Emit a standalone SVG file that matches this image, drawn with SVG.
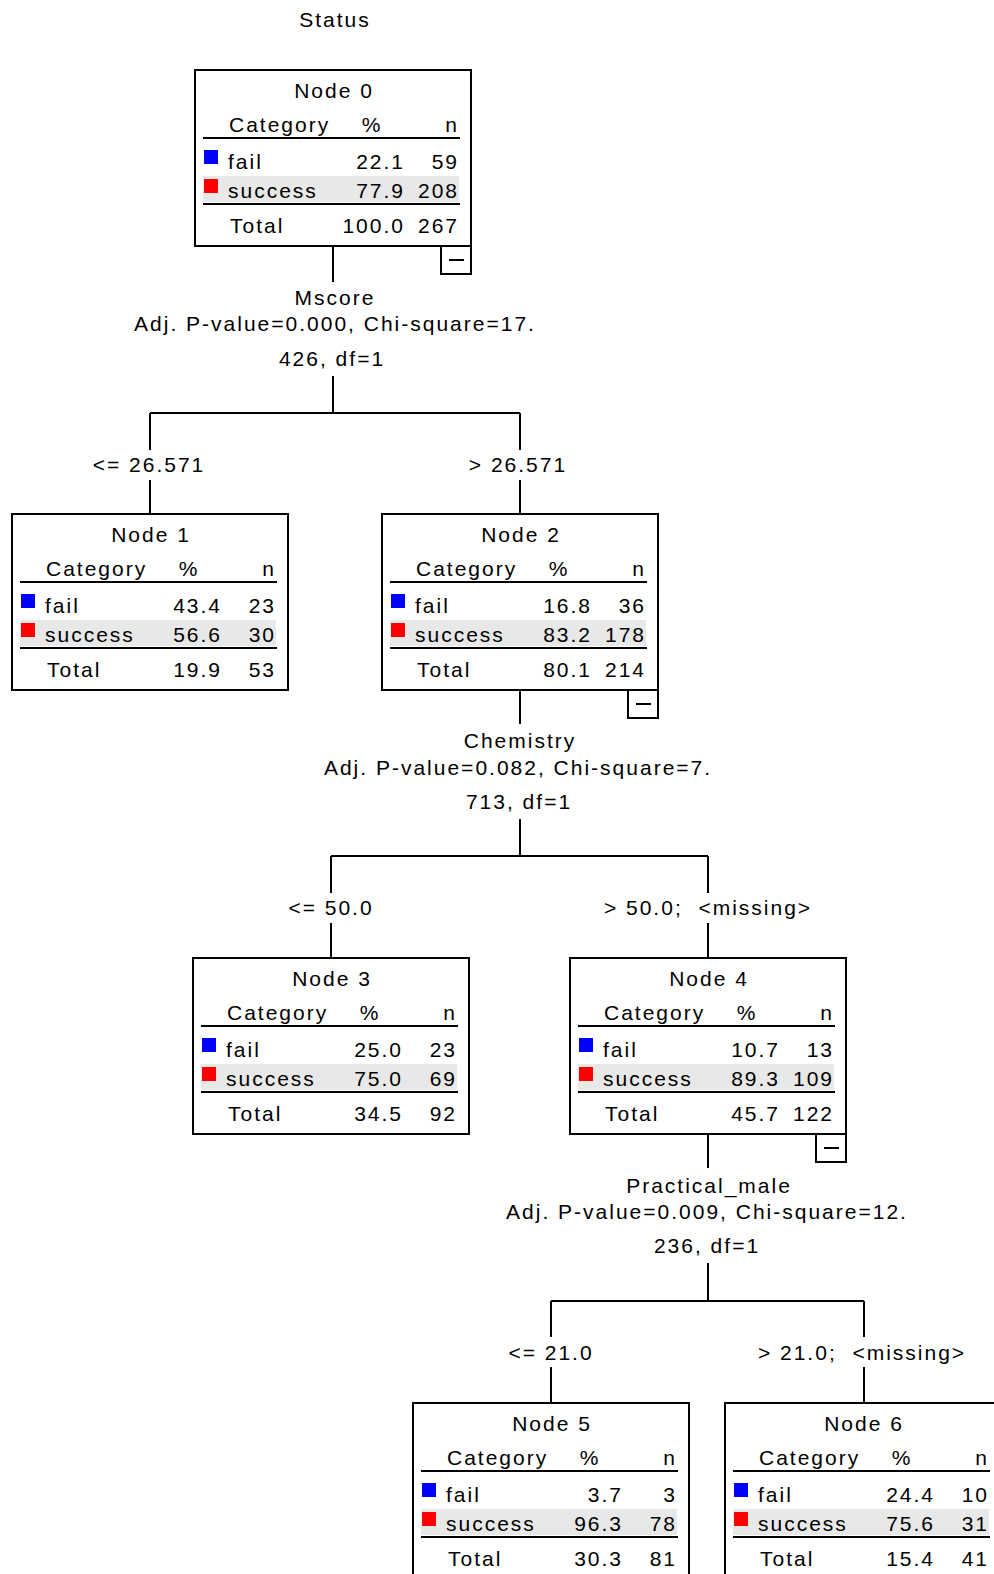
<svg xmlns="http://www.w3.org/2000/svg" xmlns:xlink="http://www.w3.org/1999/xlink" width="994" height="1574" viewBox="0 0 994 1574">
  <style>
    text { font-family: "Liberation Sans", Arial, sans-serif; font-size: 21px; letter-spacing: 2px; fill: #000; }
    .mid { text-anchor: middle; }
    .end { text-anchor: end; }
    .pre { white-space: pre; }
    .box { fill: #fff; stroke: #000; stroke-width: 2; }
    .rule { stroke: #000; stroke-width: 2; }
    .band { fill: #e8e8e8; }
    .fail { fill: #0000ff; }
    .succ { fill: #ff0000; }
    .toggle { fill: #fff; stroke: #000; stroke-width: 2; }
    .conn { fill: none; stroke: #000; stroke-width: 2; }
  </style>
  <defs>
    <!-- shared node frame: border, header rule, colour keys, shaded row, total rule -->
    <g id="frame">
      <rect class="box" x="0" y="0" width="276" height="176"/>
      <line class="rule" x1="8" y1="68" x2="265" y2="68"/>
      <rect class="band" x="8" y="106" width="256" height="26"/>
      <rect class="fail" x="9" y="80" width="14" height="14"/>
      <rect class="succ" x="9" y="109" width="14" height="14"/>
      <line class="rule" x1="8" y1="134" x2="265" y2="134"/>
      <text x="34" y="62">Category</text>
      <text class="mid" x="177" y="62">%</text>
      <text class="end" x="264" y="62">n</text>
      <text x="33" y="99">fail</text>
      <text x="33" y="128">success</text>
      <text x="35" y="163">Total</text>
    </g>
    <!-- collapse toggle under an expanded node -->
    <g id="toggle">
      <rect class="toggle" x="246" y="176" width="30" height="28"/>
      <line class="rule" x1="254" y1="190" x2="269" y2="190"/>
    </g>
  </defs>

  <text class="mid" x="335" y="27">Status</text>

  <!-- connectors and split labels -->
  <g id="connectors">
    <path class="conn" d="M333 245 V282 M333 376 V413 M150 413 H520 M150 413 V450 M520 413 V450 M150 480 V514 M520 480 V514"/>
    <path class="conn" d="M520 690 V724 M520 819 V856 M331 856 H708 M331 856 V893 M708 856 V893 M331 923 V958 M708 923 V958"/>
    <path class="conn" d="M708 1133 V1168 M708 1263 V1301 M551 1301 H864 M551 1301 V1337 M864 1301 V1337 M551 1367 V1403 M864 1367 V1403"/>

    <text class="mid" x="335" y="305">Mscore</text>
    <text class="mid" x="335" y="331">Adj. P-value=0.000, Chi-square=17.</text>
    <text class="mid" x="332" y="366">426, df=1</text>
    <text class="mid" x="149" y="472">&lt;= 26.571</text>
    <text class="mid" x="518" y="472">&gt; 26.571</text>

    <text class="mid" x="520" y="748">Chemistry</text>
    <text class="mid" x="518" y="775">Adj. P-value=0.082, Chi-square=7.</text>
    <text class="mid" x="519" y="809">713, df=1</text>
    <text class="mid" x="331" y="915">&lt;= 50.0</text>
    <text class="mid pre" x="708" y="915">&gt; 50.0;  &lt;missing&gt;</text>

    <text class="mid" x="709" y="1193">Practical_male</text>
    <text class="mid" x="707" y="1219">Adj. P-value=0.009, Chi-square=12.</text>
    <text class="mid" x="707" y="1253">236, df=1</text>
    <text class="mid" x="551" y="1360">&lt;= 21.0</text>
    <text class="mid pre" x="862" y="1360">&gt; 21.0;  &lt;missing&gt;</text>
  </g>

  <g id="node0" transform="translate(195 70)">
    <use xlink:href="#frame"/>
    <use xlink:href="#toggle"/>
    <text class="mid" x="139" y="28">Node 0</text>
    <text class="end" x="210" y="99">22.1</text><text class="end" x="264" y="99">59</text>
    <text class="end" x="210" y="128">77.9</text><text class="end" x="264" y="128">208</text>
    <text class="end" x="210" y="163">100.0</text><text class="end" x="264" y="163">267</text>
  </g>

  <g id="node1" transform="translate(12 514)">
    <use xlink:href="#frame"/>
    <text class="mid" x="139" y="28">Node 1</text>
    <text class="end" x="210" y="99">43.4</text><text class="end" x="264" y="99">23</text>
    <text class="end" x="210" y="128">56.6</text><text class="end" x="264" y="128">30</text>
    <text class="end" x="210" y="163">19.9</text><text class="end" x="264" y="163">53</text>
  </g>

  <g id="node2" transform="translate(382 514)">
    <use xlink:href="#frame"/>
    <use xlink:href="#toggle"/>
    <text class="mid" x="139" y="28">Node 2</text>
    <text class="end" x="210" y="99">16.8</text><text class="end" x="264" y="99">36</text>
    <text class="end" x="210" y="128">83.2</text><text class="end" x="264" y="128">178</text>
    <text class="end" x="210" y="163">80.1</text><text class="end" x="264" y="163">214</text>
  </g>

  <g id="node3" transform="translate(193 958)">
    <use xlink:href="#frame"/>
    <text class="mid" x="139" y="28">Node 3</text>
    <text class="end" x="210" y="99">25.0</text><text class="end" x="264" y="99">23</text>
    <text class="end" x="210" y="128">75.0</text><text class="end" x="264" y="128">69</text>
    <text class="end" x="210" y="163">34.5</text><text class="end" x="264" y="163">92</text>
  </g>

  <g id="node4" transform="translate(570 958)">
    <use xlink:href="#frame"/>
    <use xlink:href="#toggle"/>
    <text class="mid" x="139" y="28">Node 4</text>
    <text class="end" x="210" y="99">10.7</text><text class="end" x="264" y="99">13</text>
    <text class="end" x="210" y="128">89.3</text><text class="end" x="264" y="128">109</text>
    <text class="end" x="210" y="163">45.7</text><text class="end" x="264" y="163">122</text>
  </g>

  <g id="node5" transform="translate(413 1403)">
    <use xlink:href="#frame"/>
    <text class="mid" x="139" y="28">Node 5</text>
    <text class="end" x="210" y="99">3.7</text><text class="end" x="264" y="99">3</text>
    <text class="end" x="210" y="128">96.3</text><text class="end" x="264" y="128">78</text>
    <text class="end" x="210" y="163">30.3</text><text class="end" x="264" y="163">81</text>
  </g>

  <g id="node6" transform="translate(725 1403)">
    <use xlink:href="#frame"/>
    <text class="mid" x="139" y="28">Node 6</text>
    <text class="end" x="210" y="99">24.4</text><text class="end" x="264" y="99">10</text>
    <text class="end" x="210" y="128">75.6</text><text class="end" x="264" y="128">31</text>
    <text class="end" x="210" y="163">15.4</text><text class="end" x="264" y="163">41</text>
  </g>
</svg>
